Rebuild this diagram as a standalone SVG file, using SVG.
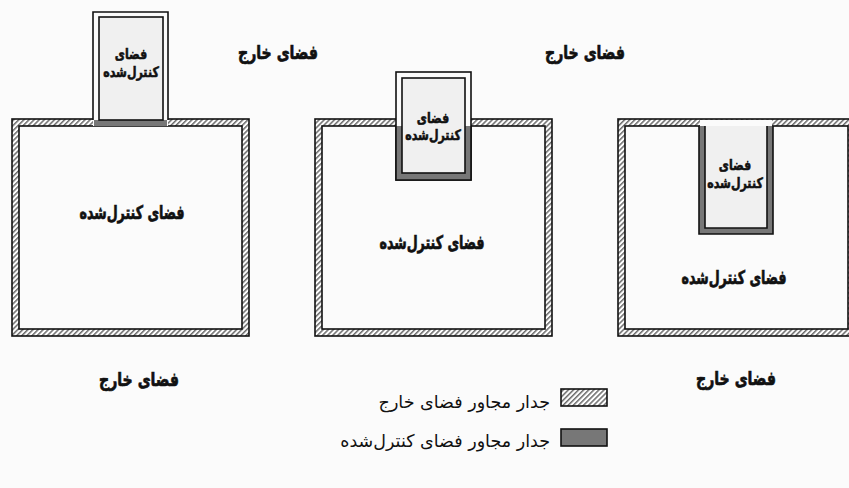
<svg xmlns="http://www.w3.org/2000/svg" width="849" height="488" viewBox="0 0 849 488">
<defs>
<pattern id="hatch" patternUnits="userSpaceOnUse" width="3.6" height="3.6" patternTransform="rotate(45)">
<rect width="3.6" height="3.6" fill="#ffffff"/>
<line x1="0.8" y1="0" x2="0.8" y2="3.6" stroke="#333" stroke-width="1.1"/>
</pattern>
<style>
.wall{fill:url(#hatch);fill-rule:evenodd;stroke:none}
.edge{fill:none;stroke:#111;stroke-width:1.6}
.light{fill:#f0f0f0;stroke:#111;stroke-width:1.6}
.dark{fill:#777;stroke:#111;stroke-width:1.6}
.lbl{font-family:"DejaVu Sans",sans-serif;font-weight:bold;font-size:16px;fill:#111;stroke:#111;stroke-width:0.6;text-anchor:middle}
.sm{font-family:"DejaVu Sans",sans-serif;font-weight:bold;font-size:12px;fill:#111;stroke:#111;stroke-width:0.5;text-anchor:middle}
.leg{font-family:"DejaVu Sans",sans-serif;font-size:17.5px;fill:#111;text-anchor:end}
</style>
</defs>
<rect width="849" height="488" fill="#fbfbfb"/>

<g id="diagram-left">
<path class="wall" d="M12,119H249V336H12Z M19,126V329H242V126Z"/>
<rect class="edge" x="12" y="119" width="237" height="217"/>
<rect class="edge" x="19" y="126" width="223" height="203"/>
<rect x="93" y="11" width="75" height="115" fill="#fbfbfb"/>
<path class="edge" d="M93,120V12H168V120"/>
<rect x="94" y="120" width="73" height="6" fill="#777"/>
<rect class="light" x="99" y="17" width="64" height="103"/>
<text class="sm" transform="translate(131,59) scale(0.92,1.2)">فضای</text>
<text class="sm" transform="translate(131,77) scale(0.92,1.2)">کنترل&#x200C;شده</text>
<text class="lbl" transform="translate(132,219) scale(0.79,1.18)">فضای کنترل&#x200C;شده</text>
</g>

<g id="diagram-middle">
<path class="wall" d="M315,119H552V336H315Z M322,126V329H545V126Z"/>
<rect class="edge" x="315" y="119" width="237" height="217"/>
<rect class="edge" x="322" y="126" width="223" height="203"/>
<rect class="edge" x="396" y="72" width="75" height="108" style="fill:#fbfbfb"/>
<path class="dark" d="M396,126V180H471V126"/>
<rect x="397" y="126" width="73" height="2" fill="#777"/>
<rect class="light" x="402" y="78" width="63" height="95"/>
<text class="sm" transform="translate(433,123) scale(0.92,1.2)">فضای</text>
<text class="sm" transform="translate(433,140) scale(0.92,1.2)">کنترل&#x200C;شده</text>
<text class="lbl" transform="translate(432,249) scale(0.79,1.18)">فضای کنترل&#x200C;شده</text>
</g>

<g id="diagram-right">
<path class="wall" d="M618,119H855V336H618Z M625,126V329H848V126Z"/>
<rect class="edge" x="618" y="119" width="237" height="217"/>
<rect class="edge" x="625" y="126" width="223" height="203"/>
<rect x="700" y="120" width="72" height="7" fill="#fbfbfb"/>
<path class="dark" d="M699,126V234H773V126"/>
<path d="M705,126V228H767V126Z" fill="#f0f0f0"/>
<path class="edge" d="M705,126V228H767V126"/>
<text class="sm" transform="translate(735,170) scale(0.92,1.2)">فضای</text>
<text class="sm" transform="translate(735,188) scale(0.92,1.2)">کنترل&#x200C;شده</text>
<text class="lbl" transform="translate(734,284) scale(0.79,1.18)">فضای کنترل&#x200C;شده</text>
</g>

<g id="outside-labels">
<text class="lbl" transform="translate(278,59) scale(0.88,1.18)">فضای خارج</text>
<text class="lbl" transform="translate(585,59) scale(0.88,1.18)">فضای خارج</text>
<text class="lbl" transform="translate(139,386) scale(0.88,1.18)">فضای خارج</text>
<text class="lbl" transform="translate(736,385) scale(0.88,1.18)">فضای خارج</text>
</g>

<g id="legend">
<rect x="561" y="389" width="46" height="17" fill="url(#hatch)" stroke="#111" stroke-width="1.6"/>
<text class="leg" x="550" y="408">جدار مجاور فضای خارج</text>
<rect x="561" y="429" width="46" height="17" fill="#777" stroke="#111" stroke-width="1.6"/>
<text class="leg" x="550" y="447">جدار مجاور فضای کنترل&#x200C;شده</text>
</g>

<g id="connectors"></g>
</svg>
